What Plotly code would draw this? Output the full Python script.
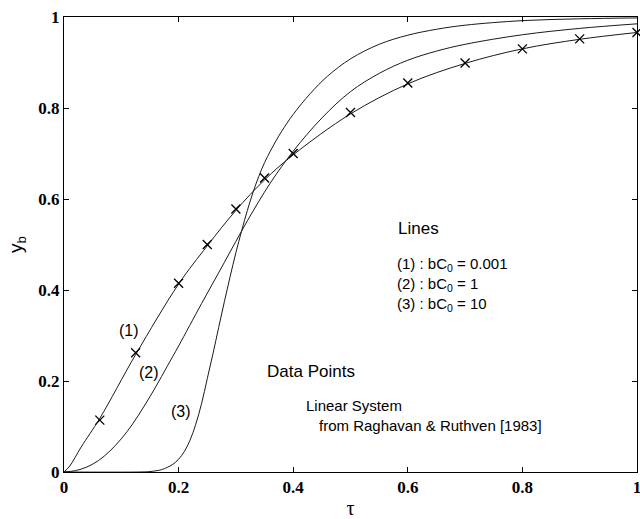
import plotly.graph_objects as go

# Curve (1): bC0 = 0.001
tau1 = [0, 0.01, 0.03, 0.0625, 0.125, 0.2, 0.25, 0.3, 0.35, 0.4, 0.5, 0.6, 0.7, 0.8, 0.9, 1.0]
yb1 = [0, 0.013, 0.055, 0.118, 0.258, 0.413, 0.497, 0.575, 0.642, 0.697, 0.787, 0.853, 0.898, 0.930, 0.951, 0.966]

# Curve (2): bC0 = 1
tau2 = [0, 0.02, 0.04, 0.06, 0.08, 0.10, 0.12, 0.14, 0.16, 0.18, 0.20, 0.24, 0.28, 0.32, 0.36,
        0.40, 0.45, 0.5, 0.55, 0.6, 0.65, 0.7, 0.8, 0.9, 1.0]
yb2 = [0, 0.003, 0.011, 0.025, 0.046, 0.073, 0.106, 0.145, 0.187, 0.232, 0.277, 0.370, 0.461, 0.552, 0.635,
       0.705, 0.778, 0.836, 0.876, 0.905, 0.925, 0.940, 0.961, 0.975, 0.985]

# Curve (3): bC0 = 10
tau3 = [0, 0.13, 0.15, 0.17, 0.18, 0.19, 0.20, 0.21, 0.22, 0.23, 0.24, 0.25, 0.26, 0.27, 0.28, 0.29,
        0.30, 0.31, 0.32, 0.33, 0.34, 0.35, 0.36, 0.37, 0.38, 0.40, 0.43, 0.46, 0.50, 0.55, 0.60,
        0.65, 0.70, 0.8, 0.9, 1.0]
yb3 = [0, 0, 0.001, 0.005, 0.010, 0.017, 0.028, 0.045, 0.070, 0.105, 0.150, 0.205, 0.260, 0.318, 0.375, 0.430,
       0.482, 0.530, 0.575, 0.615, 0.650, 0.680, 0.705, 0.728, 0.749, 0.786, 0.832, 0.870, 0.908, 0.940, 0.960,
       0.973, 0.982, 0.992, 0.996, 0.998]

# Data points (Raghavan & Ruthven, 1983)
tau_pts = [0.0625, 0.125, 0.2, 0.25, 0.3, 0.35, 0.4, 0.5, 0.6, 0.7, 0.8, 0.9, 1.0]
yb_pts = [0.114, 0.262, 0.415, 0.50, 0.578, 0.646, 0.70, 0.79, 0.855, 0.899, 0.930, 0.952, 0.966]

x_ticks = [0, 0.2, 0.4, 0.6, 0.8, 1]
x_ticklabels = ["0", "0.2", "0.4", "0.6", "0.8", "1"]
y_ticks = [0, 0.2, 0.4, 0.6, 0.8, 1]
y_ticklabels = ["0", "0.2", "0.4", "0.6", "0.8", "1"]

line_style = dict(color="#1a1a1a", width=1, shape="spline", smoothing=1)

fig = go.Figure()
for t, y in [(tau1, yb1), (tau2, yb2), (tau3, yb3)]:
    fig.add_trace(go.Scatter(x=t, y=y, mode="lines", line=line_style,
                             showlegend=False, hoverinfo="skip", cliponaxis=True))
fig.add_trace(go.Scatter(x=tau_pts, y=yb_pts, mode="markers",
                         marker=dict(symbol="x-thin", size=9,
                                     line=dict(color="black", width=1.3)),
                         showlegend=False, cliponaxis=False))

sans = "Liberation Sans, Arial, sans-serif"
ann = [
    dict(x=0.113, y=0.310, text="(1)", xanchor="center", size=16),
    dict(x=0.148, y=0.218, text="(2)", xanchor="center", size=16),
    dict(x=0.205, y=0.132, text="(3)", xanchor="center", size=16),
    dict(x=0.580, y=0.536, text="Lines", xanchor="left", size=17),
    dict(x=0.577, y=0.457, text="(1) : bC<sub>0</sub> = 0.001", xanchor="left", size=15),
    dict(x=0.577, y=0.413, text="(2) : bC<sub>0</sub> = 1", xanchor="left", size=15),
    dict(x=0.577, y=0.369, text="(3) : bC<sub>0</sub> = 10", xanchor="left", size=15),
    dict(x=0.350, y=0.220, text="Data Points", xanchor="left", size=17),
    dict(x=0.419, y=0.147, text="Linear System", xanchor="left", size=15),
    dict(x=0.442, y=0.103, text="from Raghavan &amp; Ruthven [1983]", xanchor="left", size=15),
]
for a in ann:
    fig.add_annotation(x=a["x"], y=a["y"], text=a["text"], xref="x", yref="y",
                       xanchor=a["xanchor"], yanchor="middle", showarrow=False,
                       font=dict(family=sans, size=a["size"], color="black"))

serif = "Times New Roman, Liberation Serif, DejaVu Serif, serif"
axis_common = dict(showgrid=False, zeroline=False, showline=True, linecolor="black",
                   linewidth=1, mirror="ticks", ticks="inside", ticklen=5,
                   tickcolor="black", tickwidth=1, automargin=False,
                   ticklabeloverflow="allow",
                   tickfont=dict(family=serif, size=17, color="black", weight="bold"))
fig.update_xaxes(range=[0, 1], tickvals=x_ticks, ticktext=x_ticklabels,
                 title=dict(text="τ", font=dict(family=serif, size=20, color="black"), standoff=4),
                 **axis_common)
fig.update_yaxes(range=[0, 1], tickvals=y_ticks, ticktext=y_ticklabels,
                 title=dict(text="y<sub>b</sub>", font=dict(family=sans, size=19, color="black"), standoff=10),
                 **axis_common)

fig.update_layout(width=640, height=519, plot_bgcolor="white", paper_bgcolor="white",
                  margin=dict(l=64, r=3, t=17, b=47), showlegend=False)

fig.write_html("out.html", config={"displayModeBar": False},
               post_script="document.body.style.margin='0';document.body.style.overflow='hidden';")
